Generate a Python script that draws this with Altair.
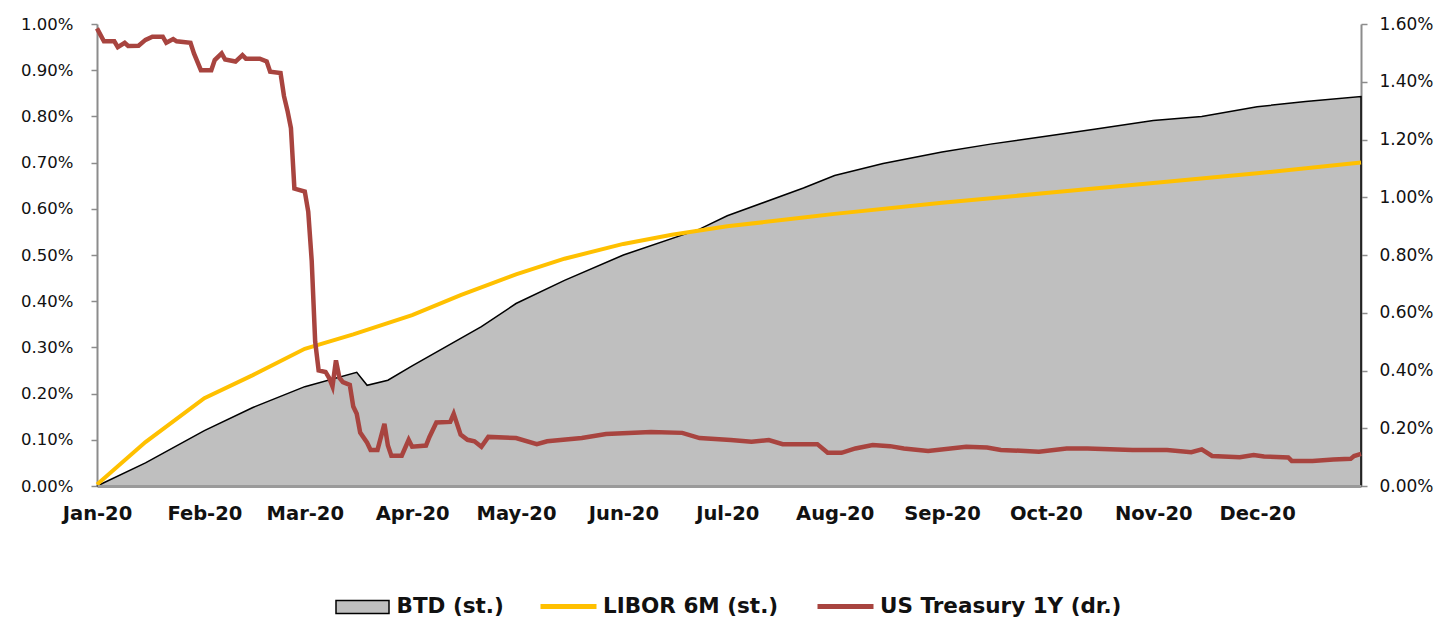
import altair as alt
import pandas as pd

# ---------------- data (percent values) ----------------
btd_dates = ["2020-01-01", "2020-01-15", "2020-02-01", "2020-02-15", "2020-03-01",
             "2020-03-16", "2020-03-19", "2020-03-25", "2020-04-01", "2020-04-21",
             "2020-05-01", "2020-05-15", "2020-06-01", "2020-06-23", "2020-07-01",
             "2020-07-23", "2020-08-01", "2020-08-15", "2020-09-01", "2020-09-15",
             "2020-10-01", "2020-10-15", "2020-11-01", "2020-11-15", "2020-12-01",
             "2020-12-15", "2020-12-31"]
btd_values = [0.000, 0.050, 0.120, 0.170, 0.215,
              0.246, 0.218, 0.229, 0.260, 0.345,
              0.395, 0.445, 0.500, 0.556, 0.585,
              0.645, 0.672, 0.698, 0.723, 0.740,
              0.757, 0.772, 0.791, 0.800, 0.821,
              0.832, 0.843]

libor_dates = ["2020-01-01", "2020-01-15", "2020-02-01", "2020-02-15", "2020-03-01",
               "2020-03-15", "2020-04-01", "2020-04-15", "2020-05-01", "2020-05-15",
               "2020-06-01", "2020-06-15", "2020-07-01", "2020-07-23", "2020-08-01",
               "2020-09-01", "2020-10-01", "2020-11-01", "2020-12-01", "2020-12-31"]
libor_values = [0.003, 0.095, 0.190, 0.240, 0.297,
                0.328, 0.370, 0.413, 0.458, 0.492,
                0.524, 0.544, 0.562, 0.581, 0.589,
                0.613, 0.634, 0.656, 0.677, 0.700]

ust_dates = ["2020-01-01", "2020-01-03", "2020-01-06", "2020-01-07", "2020-01-09",
             "2020-01-10", "2020-01-13", "2020-01-15", "2020-01-17", "2020-01-20",
             "2020-01-21", "2020-01-23", "2020-01-24", "2020-01-28", "2020-01-29",
             "2020-01-31", "2020-02-03", "2020-02-04", "2020-02-06", "2020-02-07",
             "2020-02-10", "2020-02-12", "2020-02-13", "2020-02-17", "2020-02-19",
             "2020-02-20", "2020-02-23", "2020-02-24", "2020-02-25", "2020-02-26",
             "2020-02-27", "2020-03-01", "2020-03-02", "2020-03-03", "2020-03-04",
             "2020-03-05", "2020-03-07", "2020-03-08", "2020-03-09", "2020-03-10",
             "2020-03-11", "2020-03-12", "2020-03-14", "2020-03-15", "2020-03-16",
             "2020-03-17", "2020-03-19", "2020-03-20", "2020-03-22", "2020-03-24",
             "2020-03-25", "2020-03-26", "2020-03-29", "2020-03-31", "2020-04-01",
             "2020-04-05", "2020-04-06", "2020-04-08", "2020-04-12", "2020-04-13",
             "2020-04-15", "2020-04-17", "2020-04-19", "2020-04-21", "2020-04-23",
             "2020-05-01", "2020-05-07", "2020-05-10", "2020-05-20", "2020-05-27",
             "2020-06-09", "2020-06-18", "2020-06-23", "2020-07-02", "2020-07-08",
             "2020-07-13", "2020-07-17", "2020-07-27", "2020-07-30", "2020-08-03",
             "2020-08-07", "2020-08-12", "2020-08-17", "2020-08-21", "2020-08-28",
             "2020-09-08", "2020-09-14", "2020-09-18", "2020-09-29", "2020-10-07",
             "2020-10-13", "2020-10-26", "2020-11-05", "2020-11-12", "2020-11-15",
             "2020-11-18", "2020-11-26", "2020-11-30", "2020-12-03", "2020-12-10",
             "2020-12-11", "2020-12-17", "2020-12-23", "2020-12-28", "2020-12-29",
             "2020-12-31"]
ust_values = [1.585, 1.540, 1.540, 1.520, 1.535,
              1.524, 1.525, 1.545, 1.556, 1.556,
              1.535, 1.548, 1.540, 1.535, 1.498,
              1.440, 1.440, 1.475, 1.498, 1.477,
              1.470, 1.492, 1.480, 1.480, 1.470,
              1.435, 1.430, 1.350, 1.300, 1.240,
              1.030, 1.020, 0.950, 0.780, 0.500,
              0.400, 0.395, 0.375, 0.345, 0.435,
              0.375, 0.360, 0.350, 0.275, 0.250,
              0.185, 0.150, 0.125, 0.125, 0.215,
              0.140, 0.105, 0.105, 0.160, 0.136,
              0.140, 0.170, 0.220, 0.222, 0.250,
              0.178, 0.160, 0.155, 0.136, 0.170,
              0.166, 0.145, 0.155, 0.166, 0.180,
              0.187, 0.184, 0.166, 0.159, 0.153,
              0.159, 0.145, 0.145, 0.115, 0.115,
              0.130, 0.142, 0.138, 0.130, 0.121,
              0.136, 0.133, 0.125, 0.119, 0.130,
              0.130, 0.125, 0.125, 0.117, 0.127,
              0.104, 0.100, 0.107, 0.102, 0.099,
              0.087, 0.087, 0.092, 0.094, 0.104,
              0.111]

left_ticks = [0.0, 0.1, 0.2, 0.3, 0.4, 0.5, 0.6, 0.7, 0.8, 0.9, 1.0]
right_ticks = [0.0, 0.2, 0.4, 0.6, 0.8, 1.0, 1.2, 1.4, 1.6]
series_names = ["BTD (st.)", "LIBOR 6M (st.)", "US Treasury 1Y (dr.)"]

# ---------------- tables ----------------
df_btd = pd.DataFrame({"date": pd.to_datetime(btd_dates), "value": btd_values,
                       "series": series_names[0]})
df_libor = pd.DataFrame({"date": pd.to_datetime(libor_dates), "value": libor_values,
                         "series": series_names[1]})
df_ust = pd.DataFrame({"date": pd.to_datetime(ust_dates), "value": ust_values,
                       "series": series_names[2]})

FONT = "DejaVu Sans"
AXIS_GRAY = "#8c8c8c"
LEG_Y = 572
LEG_SIZE = 21.5

x_enc = alt.X(
    "date:T",
    title=None,
    scale=alt.Scale(domain=[alt.DateTime(year=2020, month=1, date=1),
                            alt.DateTime(year=2020, month=12, date=31)]),
    axis=alt.Axis(
        values=[alt.DateTime(year=2020, month=m, date=1) for m in range(1, 13)],
        format="%b-%y", labelAlign="center", labelFont=FONT, labelFontSize=19.5,
        labelFontWeight="bold", labelColor="#111111", labelPadding=18,
        tickSize=0, domainColor="#9a9a9a", domainWidth=3, grid=False, zindex=1,
        labelOverlap=False, labelFlush=False,
    ),
)

left_axis = alt.Axis(
    orient="left", values=left_ticks, labelExpr="format(datum.value, '.2f') + '%'",
    labelFont=FONT, labelFontSize=16.5, labelColor="#111111", labelPadding=18,
    domainColor=AXIS_GRAY, domainWidth=2, tickColor=AXIS_GRAY, tickSize=6,
    tickWidth=1.5, grid=False, labelFlush=False, labelOverlap=False,
)
right_axis = alt.Axis(
    orient="right", values=right_ticks, labelExpr="format(datum.value, '.2f') + '%'",
    labelFont=FONT, labelFontSize=17, labelColor="#111111", labelPadding=12,
    domainColor=AXIS_GRAY, domainWidth=2, tickColor=AXIS_GRAY, tickSize=6,
    tickWidth=1.5, grid=False, labelFlush=False, labelOverlap=False,
)

stroke_scale = alt.Scale(domain=series_names[1:], range=["#FFC000", "#A8443F"])
stroke_legend = alt.Legend(
    orient="none", legendX=459, legendY=LEG_Y - 2, direction="horizontal", title=None,
    symbolType="M-2.8,0H2.8", symbolSize=400, symbolStrokeWidth=5,
    labelFont=FONT, labelFontSize=LEG_SIZE, labelFontWeight="bold", labelColor="#111111",
    labelOffset=22, columnPadding=28, labelLimit=400,
)

area = alt.Chart(df_btd).mark_area(
    stroke="black", strokeWidth=1.5, fillOpacity=1, strokeJoin="miter"
).encode(
    x=x_enc,
    y=alt.Y("value:Q", title=None, scale=alt.Scale(domain=[0, 1.0], nice=False),
            axis=left_axis),
    fill=alt.Fill(
        "series:N",
        scale=alt.Scale(domain=[series_names[0]], range=["#BFBFBF"]),
        legend=alt.Legend(
            orient="none", legendX=254.5, legendY=LEG_Y, title=None,
            symbolType="M-2.65,-0.65H2.65V0.65H-2.65Z", symbolSize=400,
            symbolStrokeColor="black", symbolStrokeWidth=1.5, symbolOpacity=1,
            labelFont=FONT, labelFontSize=LEG_SIZE, labelFontWeight="bold",
            labelColor="#111111", labelOffset=23,
        ),
    ),
)

libor = alt.Chart(df_libor).mark_line(strokeWidth=4).encode(
    x=x_enc,
    y=alt.Y("value:Q", title=None, scale=alt.Scale(domain=[0, 1.0], nice=False)),
    stroke=alt.Stroke("series:N", scale=stroke_scale, legend=stroke_legend),
)

ust = alt.Chart(df_ust).mark_line(strokeWidth=4.5).encode(
    x=x_enc,
    y=alt.Y("value:Q", title=None, scale=alt.Scale(domain=[0, 1.6], nice=False),
            axis=right_axis),
    stroke=alt.Stroke("series:N", scale=stroke_scale, legend=stroke_legend),
)

left_layer = alt.layer(area, libor)

chart = alt.layer(left_layer, ust).resolve_scale(y="independent").properties(
    width=1264, height=462,
    autosize=alt.AutoSizeParams(type="none"),
    padding={"left": 89, "top": 16, "right": 78, "bottom": 136},
    background="white",
).configure_view(stroke=None)

chart.save("out.html", embed_options={"renderer": "svg", "actions": False})
